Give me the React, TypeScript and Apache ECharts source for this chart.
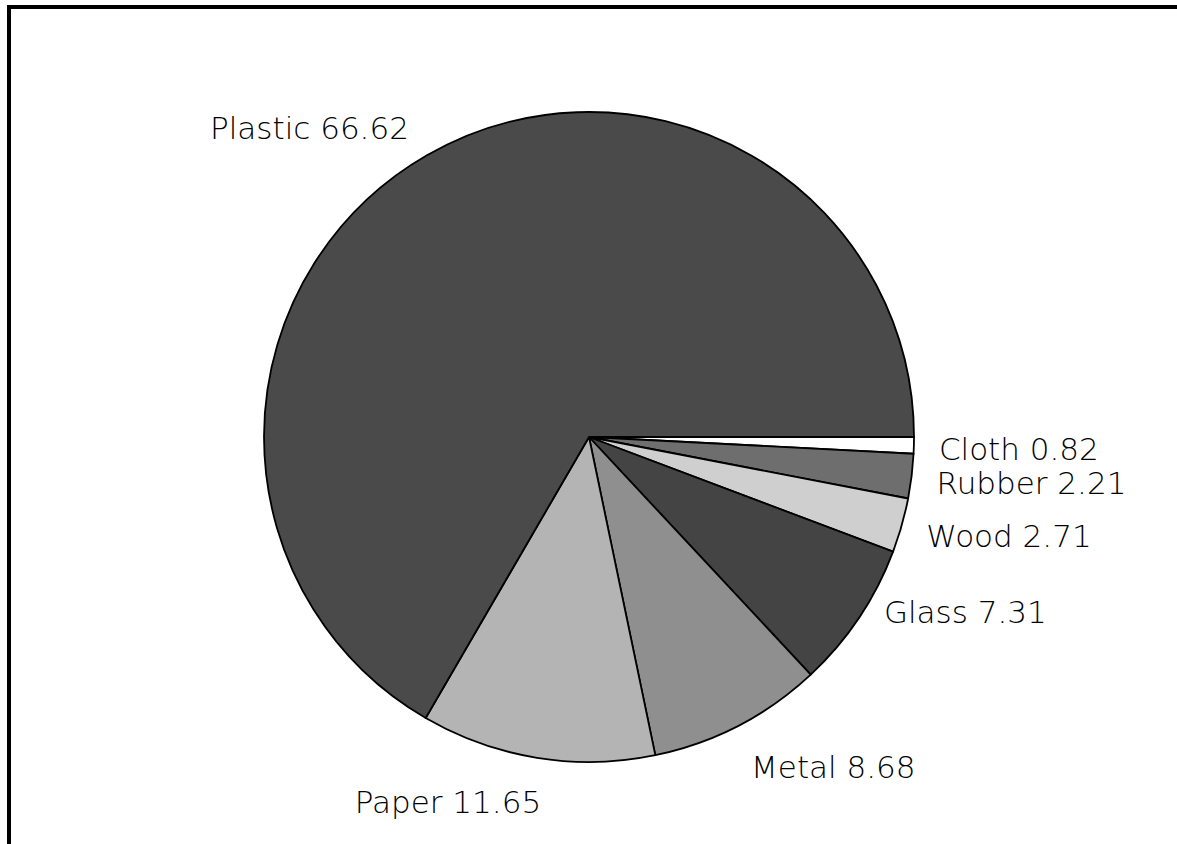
import React, { useEffect, useRef } from "react";
import * as echarts from "echarts";

const categories = ["Cloth", "Rubber", "Wood", "Glass", "Metal", "Paper", "Plastic"];
const values = [0.82, 2.21, 2.71, 7.31, 8.68, 11.65, 66.62];
const fills = ["#ffffff", "#6e6e6e", "#cfcfcf", "#444444", "#8f8f8f", "#b4b4b4", "#4a4a4a"];
// small hand tweaks of the label placement, as in the original figure
const labelNudges: [number, number][] = [
  [0, 3], [0, 5], [0, 7], [2, -13], [-6, 31], [19, 32], [1, -17],
];

export default function App() {
  const ref = useRef<HTMLDivElement>(null);
  useEffect(() => {
    if (!ref.current) return;
    const chart = echarts.init(ref.current, null, { renderer: "svg" });
    chart.setOption({
      animation: false,
      backgroundColor: "#ffffff",
      graphic: [
        { type: "line", shape: { x1: 7, y1: 7, x2: 1177, y2: 7 }, style: { stroke: "#000", lineWidth: 4 } },
        { type: "line", shape: { x1: 9, y1: 5, x2: 9, y2: 844 }, style: { stroke: "#000", lineWidth: 4 } },
      ],
      series: [
        {
          type: "pie",
          center: [589, 437],
          radius: 325,
          startAngle: 0,
          clockwise: true,
          avoidLabelOverlap: false,
          itemStyle: { borderColor: "#000", borderWidth: 1.8 },
          label: {
            show: true,
            position: "outside",
            formatter: (p: any) => `${p.name} ${p.value.toFixed(2)}`,
            fontFamily: "DejaVu Sans",
            fontWeight: 200,
            fontSize: 31,
            color: "#000",
          },
          labelLine: { show: false, length: 12, length2: 8 },
          labelLayout: (p: any) => ({ dx: labelNudges[p.dataIndex][0], dy: labelNudges[p.dataIndex][1] }),
          emphasis: { disabled: true },
          data: categories.map((c, i) => ({ name: c, value: values[i], itemStyle: { color: fills[i] } })),
        },
      ],
    });
    return () => chart.dispose();
  }, []);
  return <div ref={ref} style={{ position: "absolute", left: 0, top: 0, width: 1177, height: 844 }} />;
}
